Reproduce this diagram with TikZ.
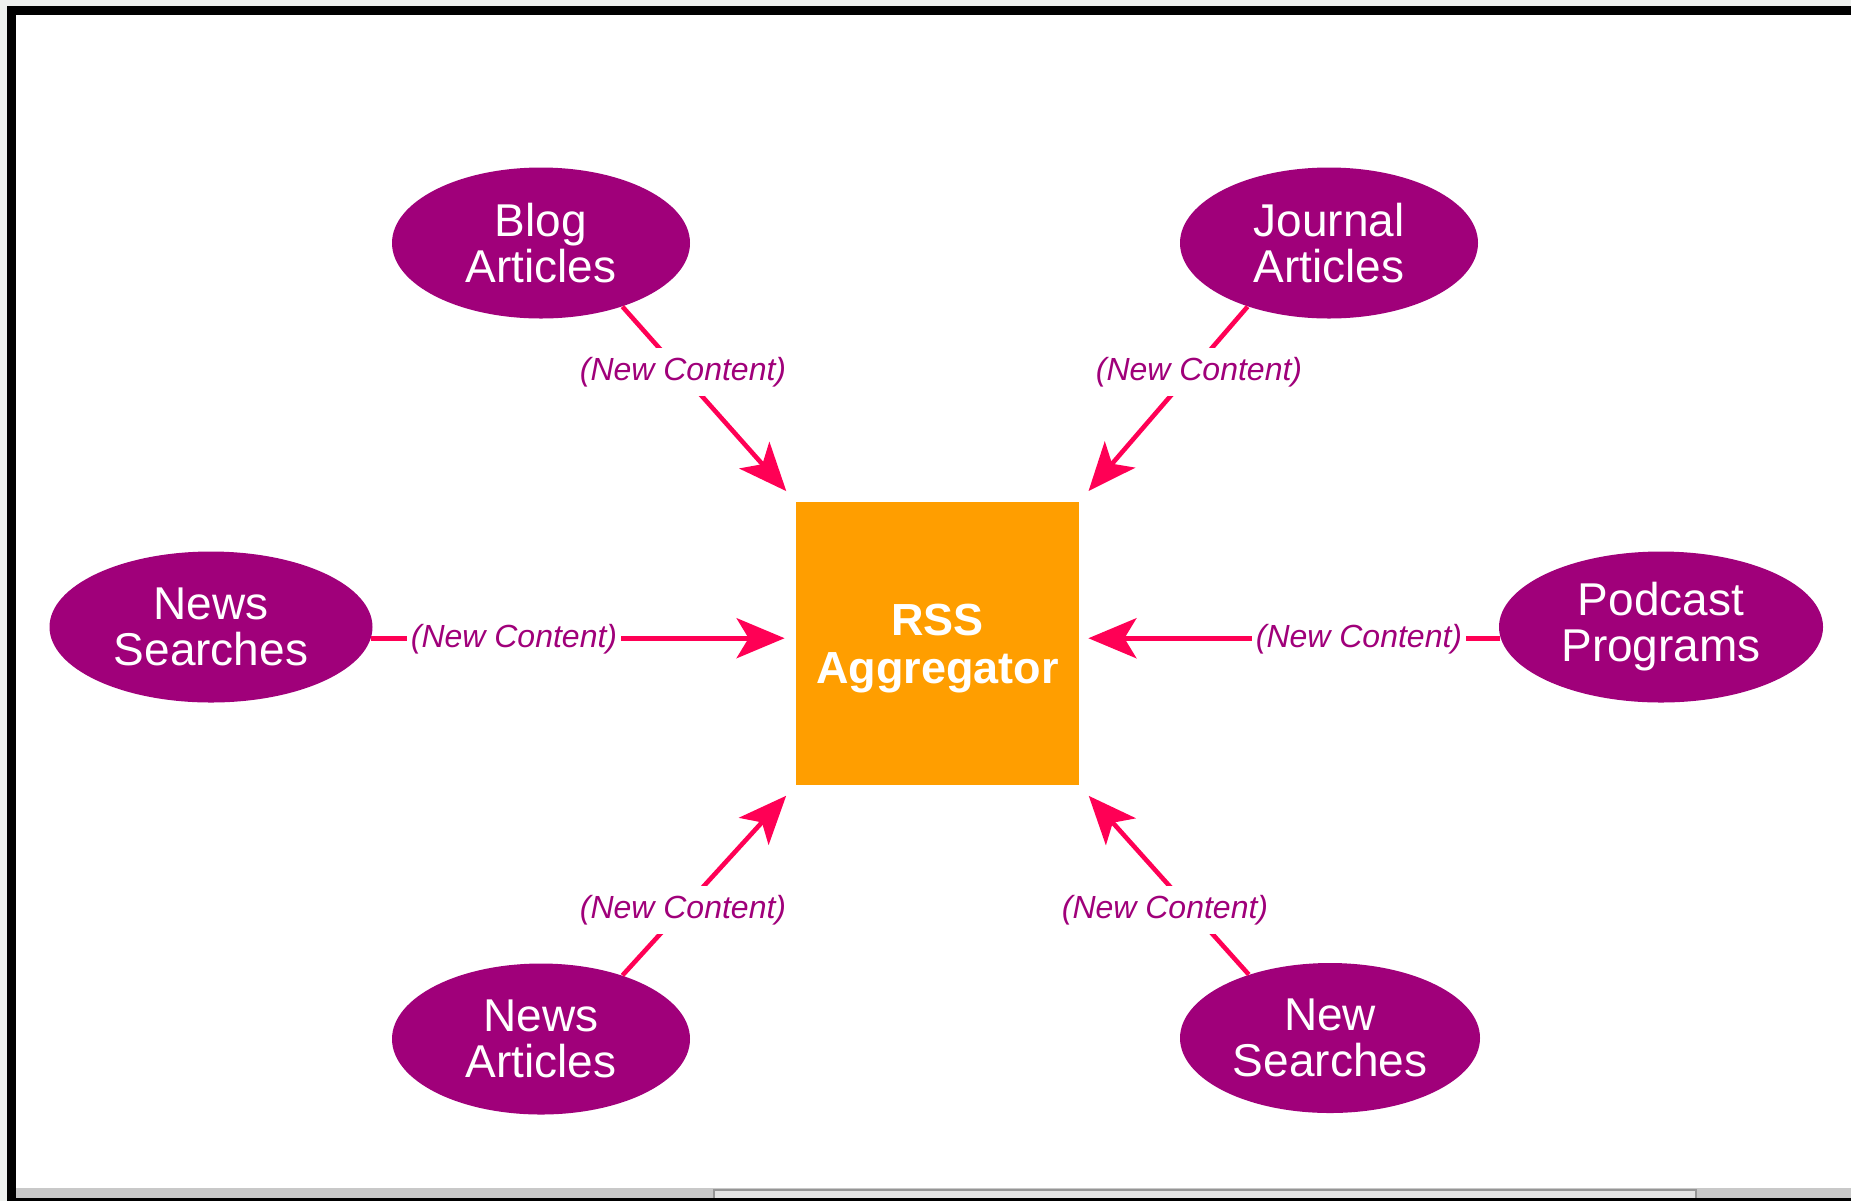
\documentclass[tikz,border=0pt]{standalone}
\usepackage{fontspec}
\setmainfont{Liberation Sans}
\usetikzlibrary{arrows.meta,shapes.geometric}
\definecolor{plum}{RGB}{160,0,122}
\definecolor{amber}{RGB}{255,158,0}
\definecolor{hotred}{RGB}{255,0,85}
\definecolor{shellgray}{RGB}{238,240,238}
\definecolor{bargray}{RGB}{200,200,200}
\definecolor{thumbgray}{RGB}{228,228,228}
\definecolor{edgegray}{RGB}{150,150,150}
\begin{document}
\begin{tikzpicture}[x=0.5pt,y=-0.5pt,
  src/.style={ellipse, fill=plum, text=white, inner sep=0pt, align=center,
    font=\fontsize{23}{23}\selectfont},
  hub/.style={rectangle, fill=amber, text=white, minimum width=141.5pt,
    minimum height=141.5pt, inner sep=0pt, align=center,
    font=\fontsize{22.5}{24}\selectfont\bfseries},
  flow/.style={draw=hotred, line width=2.3pt,
    -{Stealth[length=24pt,width=20pt,inset=6pt]}},
  tag/.style={fill=white, text=plum, inner xsep=2pt, inner ysep=4.5pt,
    font=\fontsize{16}{18}\selectfont\itshape}
]
\useasboundingbox (0,0) rectangle (1851,1201);
% window shell
\fill[shellgray] (0,0) rectangle (1851,1201);
\fill[white] (16,15) rectangle (1851,1188);
\fill[black] (8,6) rectangle (1851,15);
\fill[black] (7,6) rectangle (16,1201);
\fill[bargray] (16,1188) rectangle (1851,1198);
\fill[thumbgray] (714,1190) rectangle (1696,1198);
\draw[edgegray, line width=0.8pt] (714,1198) -- (714,1190) -- (1696,1190) -- (1696,1198);
\fill[black] (7,1198) rectangle (1851,1201);

% nodes
\node[hub, text height=45pt] (rss) at (937.5,643.5) {RSS\\Aggregator};
\node[src, minimum width=149pt, minimum height=75.5pt] (blog) at (541,243) {Blog\\Articles};
\node[src, minimum width=149pt, minimum height=75.5pt] (jour) at (1329,243) {Journal\\Articles};
\node[src, minimum width=161.5pt, minimum height=75.5pt] (nsrch) at (211,627) {News\\Searches};
\node[src, minimum width=162pt, minimum height=75.5pt] (pod) at (1661,627) {Podcast\\Programs};
\node[src, minimum width=149pt, minimum height=75.5pt] (nart) at (541,1039) {News\\Articles};
\node[src, minimum width=150pt, minimum height=75pt] (newsr) at (1330,1038) {New\\Searches};

% connectors
\draw[flow, shorten >=7pt] (blog.-38) -- (rss.north west);
\draw[flow, shorten >=7pt] (jour.-142) -- (rss.north east);
\draw[flow, shorten >=5.5pt] (nsrch.-4) -- (rss.west |- nsrch.-4);
\draw[flow, shorten >=4.5pt] (pod.184) -- (rss.east |- pod.184);
\draw[flow, shorten >=7pt] (nart.38) -- (rss.south west);
\draw[flow, shorten >=7pt] (newsr.142) -- (rss.south east);

% labels
\node[tag] (t1) at (683,372) {(New Content)};
\node[tag] (t2) at (1199,372) {(New Content)};
\node[tag] (t3) at (514,639) {(New Content)};
\node[tag] (t4) at (1359,639) {(New Content)};
\node[tag] (t5) at (683,910) {(New Content)};
\node[tag] (t6) at (1165,910) {(New Content)};
\end{tikzpicture}
\end{document}
